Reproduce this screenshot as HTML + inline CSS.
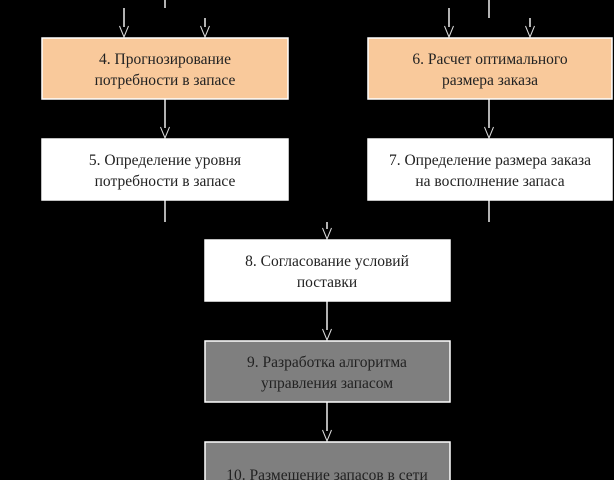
<!DOCTYPE html>
<html><head><meta charset="utf-8"><style>
html,body{margin:0;padding:0;background:#000;width:614px;height:480px;overflow:hidden}
svg{display:block}
text{font-family:"Liberation Serif",serif;font-size:15.5px;fill:#222;text-anchor:middle}
</style></head><body>
<svg width="614" height="480" viewBox="0 0 614 480">
<g stroke="#eee" stroke-width="1.5" fill="none">
<line x1="165" y1="0" x2="165" y2="8"/>
<line x1="489" y1="0" x2="489" y2="18"/>
<line x1="124" y1="8" x2="124" y2="27"/>
<line x1="205" y1="18" x2="205" y2="27"/>
<line x1="449" y1="8" x2="449" y2="27"/>
<line x1="530" y1="18" x2="530" y2="27"/>
<line x1="165" y1="99" x2="165" y2="128"/>
<line x1="489" y1="99" x2="489" y2="128"/>
<line x1="165" y1="200" x2="165" y2="222"/>
<line x1="489" y1="200" x2="489" y2="222"/>
<line x1="327" y1="222" x2="327" y2="229"/>
<line x1="327" y1="301" x2="327" y2="330"/>
<line x1="327" y1="402" x2="327" y2="431"/>
</g>
<g stroke="#ddd" stroke-width="1" fill="none">
<path d="M119.5,26 L124,37 L128.5,26"/>
<path d="M200.5,26 L205,37 L209.5,26"/>
<path d="M444.5,26 L449,37 L453.5,26"/>
<path d="M525.5,26 L530,37 L534.5,26"/>
<path d="M160.5,127 L165,138 L169.5,127"/>
<path d="M484.5,127 L489,138 L493.5,127"/>
<path d="M322.5,228 L327,239 L331.5,228"/>
<path d="M322.5,329 L327,340 L331.5,329"/>
<path d="M322.5,430 L327,441 L331.5,430"/>
</g>
<g stroke="#fff" stroke-width="1.5">
<rect x="42" y="38" width="246" height="61" fill="#f9c99b"/>
<rect x="368" y="38" width="244" height="61" fill="#f9c99b"/>
<rect x="42" y="139" width="246" height="61" fill="#fff"/>
<rect x="368" y="139" width="244" height="61" fill="#fff"/>
<rect x="205" y="240" width="245" height="61" fill="#fff"/>
<rect x="205" y="341" width="245" height="61" fill="#7f7f7f"/>
<rect x="205" y="442" width="245" height="50" fill="#7f7f7f"/>
</g>
<text x="165" y="64">4. Прогнозирование</text>
<text x="165" y="85">потребности в запасе</text>
<text x="490" y="64">6. Расчет оптимального</text>
<text x="490" y="85">размера заказа</text>
<text x="165" y="165">5. Определение уровня</text>
<text x="165" y="186">потребности в запасе</text>
<text x="490" y="165">7. Определение размера заказа</text>
<text x="490" y="186">на восполнение запаса</text>
<text x="327" y="266">8. Согласование условий</text>
<text x="327" y="287">поставки</text>
<text x="327" y="367">9. Разработка алгоритма</text>
<text x="327" y="388">управления запасом</text>
<text x="327" y="480">10. Размещение запасов в сети</text>
</svg>
</body></html>
